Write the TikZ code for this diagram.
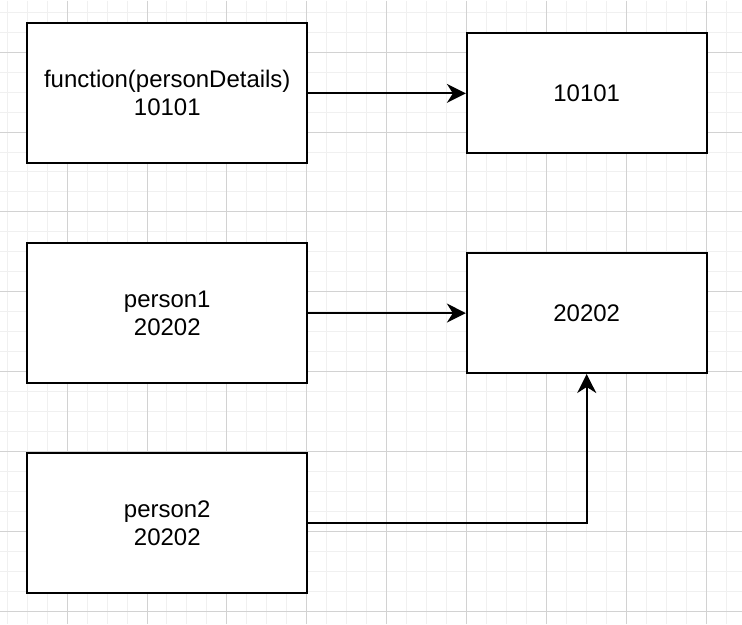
\documentclass[tikz,border=0pt]{standalone}
\usepackage{fontspec}
\setmainfont{Liberation Sans}
\usetikzlibrary{arrows.meta,positioning,calc}
\definecolor{minorgrid}{HTML}{F0F0F0}
\definecolor{majorgrid}{HTML}{D2D2D2}

\begin{document}
\begin{tikzpicture}[x=1pt,y=-1pt,
    box/.style={draw, line width=2pt, fill=white, align=center, inner sep=0pt,
      minimum width=280pt, minimum height=140pt, font=\fontsize{24}{28}\selectfont},
    addr/.style={box, minimum width=240pt, minimum height=120pt},
    >={Stealth[length=19pt, width=19pt, inset=6pt]},
    ptr/.style={line width=2pt, ->}]

        % background grid
        \fill[white] (0,0) rectangle (742,624);
        \foreach \x in {6.7,26.7,...,742} \draw[minorgrid, line width=1pt] (\x,0) -- (\x,624);
        \foreach \y in {11.7,31.7,...,624} \draw[minorgrid, line width=1pt] (0,\y) -- (742,\y);
        \foreach \x in {66.7,146.7,...,742} \draw[majorgrid, line width=1pt] (\x,0) -- (\x,624);
        \foreach \y in {51.7,131.7,...,624} \draw[majorgrid, line width=1pt] (0,\y) -- (742,\y);
        \useasboundingbox (0,0) rectangle (742,624);

        % variables on the left
        \node[box] (fn) at (167,93) {function(personDetails)\\10101};
        \node[box] (person1) at (167,313) {person1\\20202};
        \node[box] (person2) at (167,523) {person2\\20202};

        % memory on the right
        \node[addr] (mem_fn) at (587,93) {10101};
        \node[addr] (mem_obj) at (587,313) {20202};

        % draw the references
        \draw[ptr] (fn) -- (mem_fn);
        \draw[ptr] (person1) -- (mem_obj);
        \draw[ptr] (person2.east) -| (mem_obj.south);

\end{tikzpicture}
\end{document}
